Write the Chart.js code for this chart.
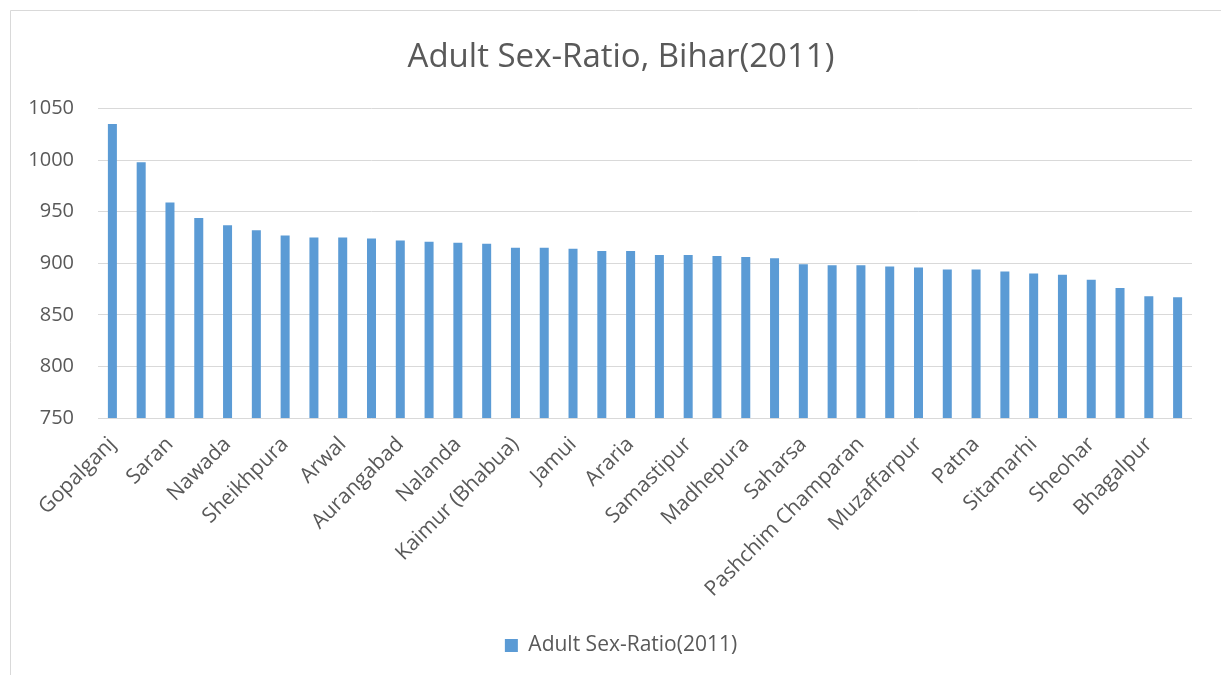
<!DOCTYPE html>
<html>
<head>
<meta charset="utf-8">
<title>Adult Sex-Ratio, Bihar(2011)</title>
<script src="https://cdn.jsdelivr.net/npm/chart.js@4"></script>
<style>
  html, body { margin: 0; padding: 0; background: #fff; }
  #wrap { width: 1221px; height: 675px; }
</style>
</head>
<body>
<div id="wrap"><canvas id="ratio-chart"></canvas></div>
<script>
// Districts of Bihar, sorted by adult sex ratio (females per 1000 males)
const districts = [
  'Gopalganj', 'Siwan', 'Saran', 'Kishanganj', 'Nawada', 'Gaya',
  'Sheikhpura', 'Jehanabad', 'Arwal', 'Bhojpur', 'Aurangabad', 'Madhubani',
  'Nalanda', 'Buxar', 'Kaimur (Bhabua)', 'Rohtas', 'Jamui', 'Darbhanga',
  'Araria', 'Purnia', 'Samastipur', 'Katihar', 'Madhepura', 'Lakhisarai',
  'Saharsa', 'Banka', 'Pashchim Champaran', 'Vaishali', 'Muzaffarpur', 'Supaul',
  'Patna', 'Purba Champaran', 'Sitamarhi', 'Begusarai', 'Sheohar', 'Khagaria',
  'Bhagalpur', 'Munger'
];

const adultSexRatio = [
  1035, 998, 959, 944, 937, 932,
  927, 925, 925, 924, 922, 921,
  920, 919, 915, 915, 914, 912,
  912, 908, 908, 907, 906, 905,
  899, 898, 898, 897, 896, 894,
  894, 892, 890, 889, 884, 876,
  868, 867
];

const yMin = 750;
const yMax = 1050;
const yStep = 50;

const textColor = '#595959';
const gridColor = '#d9d9d9';
const barColor = '#5b9bd5';

// the frame runs a little past the right edge of the page
const frameLeft = 10;
const frameRight = 1232;

// thin frame round the chart, and title/legend centred on that frame
const frame = {
  id: 'frame',
  afterLayout(chart) {
    [chart.titleBlock, chart.legend].forEach(box => {
      box.left = frameLeft;
      box.right = frameRight;
    });
  },
  beforeDraw(chart) {
    const c = chart.ctx;
    c.save();
    c.fillStyle = '#fff';
    c.fillRect(0, 0, chart.width, chart.height);
    c.strokeStyle = gridColor;
    c.lineWidth = 1;
    c.beginPath();
    c.moveTo(frameLeft + 0.5, chart.height);
    c.lineTo(frameLeft + 0.5, 10.5);
    c.lineTo(chart.width, 10.5);
    c.stroke();
    c.restore();
  }
};

const ctx = document.getElementById('ratio-chart').getContext('2d');

const ratioChart = new Chart(ctx, {
  type: 'bar',
  data: {
    labels: districts,
    datasets: [{
      label: 'Adult Sex-Ratio(2011)',
      data: adultSexRatio,
      backgroundColor: barColor,
      borderWidth: 0,
      categoryPercentage: 1,
      barPercentage: 0.313,
    }],
  },
  options: {
    responsive: true,
    maintainAspectRatio: false,
    animation: false,
    layout: {
      padding: { left: 10, right: 29, top: 0, bottom: 9 },
    },
    plugins: {
      title: {
        display: true,
        text: 'Adult Sex-Ratio, Bihar(2011)',
        color: textColor,
        font: { family: 'Open Sans', size: 33, weight: 'normal' },
        padding: { top: 38, bottom: 31 },
      },
      legend: {
        position: 'bottom',
        labels: {
          color: textColor,
          font: { family: 'Open Sans', size: 21 },
          boxWidth: 13,
          boxHeight: 13,
          padding: 10,
        },
      },
      tooltip: { enabled: false },
    },
    scales: {
      x: {
        grid: { display: false },
        border: { display: false },
        afterFit(scale) { scale.height = 207; },
        ticks: {
          autoSkip: false,
          minRotation: 45,
          maxRotation: 45,
          color: textColor,
          font: { family: 'Open Sans', size: 21 },
          padding: 6,
          // every second district is named, as on the axis
          callback(value, index) {
            return index % 2 === 0 ? districts[index] : '';
          },
        },
      },
      y: {
        min: yMin,
        max: yMax,
        afterFit(scale) { scale.width = 88; },
        grid: { color: gridColor, lineWidth: 1, drawTicks: false },
        border: { display: false },
        ticks: {
          stepSize: yStep,
          color: textColor,
          font: { family: 'Open Sans', size: 20 },
          padding: 24,
          callback(value) { return String(value); },
        },
      },
    },
  },
  plugins: [frame],
});
</script>
</body>
</html>
